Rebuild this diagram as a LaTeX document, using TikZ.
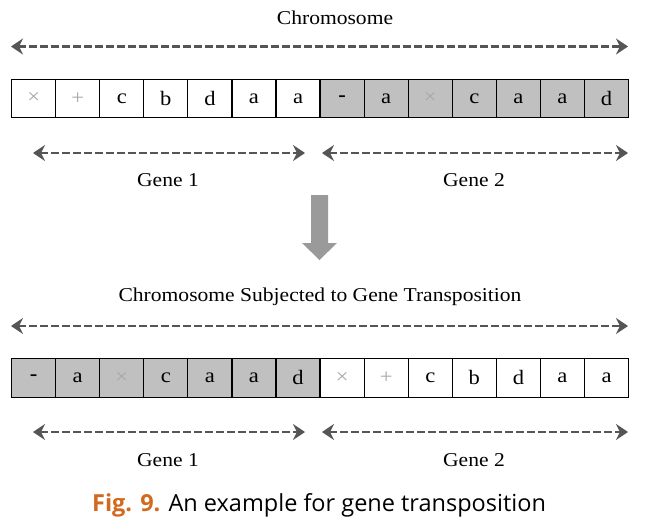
\documentclass[tikz,border=0pt]{standalone}
\usepackage{fontspec}
\setmainfont[FakeStretch=1.1]{Liberation Serif}
\newfontfamily\capfont{Open Sans}
\usetikzlibrary{arrows.meta}
\definecolor{cellgray}{HTML}{C0C0C0}
\definecolor{arrgray}{HTML}{555555}
\definecolor{biggray}{HTML}{9A9A9A}
\definecolor{symgray}{HTML}{A8A8A8}
\definecolor{figorange}{HTML}{D2691E}
\begin{document}
\begin{tikzpicture}[x=1pt,y=-1pt,
  cell/.style={draw=black, line width=1.2pt, minimum width=44.07pt, minimum height=38.5pt, inner sep=0pt, anchor=north west, font=\fontsize{20.5}{22}\selectfont},
  shaded/.style={fill=cellgray},
  plain/.style={fill=white},
  lbl/.style={font=\fontsize{19.6}{24}\selectfont, inner sep=0pt},
  dimarrow/.style={draw=arrgray, line width=2.6pt, dash pattern=on 7.5pt off 3.5pt, {Stealth[length=12pt,width=16pt,inset=4pt]}-{Stealth[length=12pt,width=16pt,inset=4pt]}}
]
\useasboundingbox (0,0) rectangle (648,525);

% ---------- top chromosome ----------
\node[lbl] (t1) at (335,18) {Chromosome};
\coordinate (a1l) at (11,46.5);
\coordinate (a1r) at (628,46.5);
\draw[dimarrow] (a1l) -- (a1r);

\foreach \s/\st [count=\i from 0] in {{\textcolor{symgray}{×}}/plain,{\textcolor{symgray}{+}}/plain,c/plain,b/plain,d/plain,a/plain,a/plain,{\textbf{-}}/shaded,a/shaded,{\textcolor{symgray}{×}}/shaded,c/shaded,a/shaded,a/shaded,d/shaded}
  \node[cell,\st] (u\i) at ({11+44.07*\i},78.5) {\s};

\coordinate (g1l) at (33,153);
\coordinate (g1r) at (305,153);
\coordinate (g2l) at (322,153);
\coordinate (g2r) at (628,153);
\draw[dimarrow] (g1l) -- (g1r);
\draw[dimarrow] (g2l) -- (g2r);
\node[lbl] (gl1) at (168,180) {Gene 1};
\node[lbl] (gl2) at (474,180) {Gene 2};

% ---------- big arrow ----------
\fill[biggray] (311,195) -- (328,195) -- (328,243) -- (337,243) -- (319.5,260) -- (302,243) -- (311,243) -- cycle;

% ---------- bottom chromosome ----------
\node[lbl] (t2) at (320,297) {Chromosome Subjected to Gene Transposition};
\coordinate (a2l) at (11,326);
\coordinate (a2r) at (628,326);
\draw[dimarrow] (a2l) -- (a2r);

\foreach \s/\st [count=\i from 0] in {{\textbf{-}}/shaded,a/shaded,{\textcolor{symgray}{×}}/shaded,c/shaded,a/shaded,a/shaded,d/shaded,{\textcolor{symgray}{×}}/plain,{\textcolor{symgray}{+}}/plain,c/plain,b/plain,d/plain,a/plain,a/plain}
  \node[cell,\st] (v\i) at ({11+44.07*\i},358) {\s};

\coordinate (h1l) at (33,432);
\coordinate (h1r) at (305,432);
\coordinate (h2l) at (322,432);
\coordinate (h2r) at (628,432);
\draw[dimarrow] (h1l) -- (h1r);
\draw[dimarrow] (h2l) -- (h2r);
\node[lbl] (hl1) at (168,460) {Gene 1};
\node[lbl] (hl2) at (474,460) {Gene 2};

% ---------- caption ----------
\node[inner sep=0pt, font=\capfont\fontsize{23.5}{28}\selectfont] (cap) at (319,505) {\textcolor{figorange}{\textbf{Fig. 9.}} An example for gene transposition};
\end{tikzpicture}
\end{document}
